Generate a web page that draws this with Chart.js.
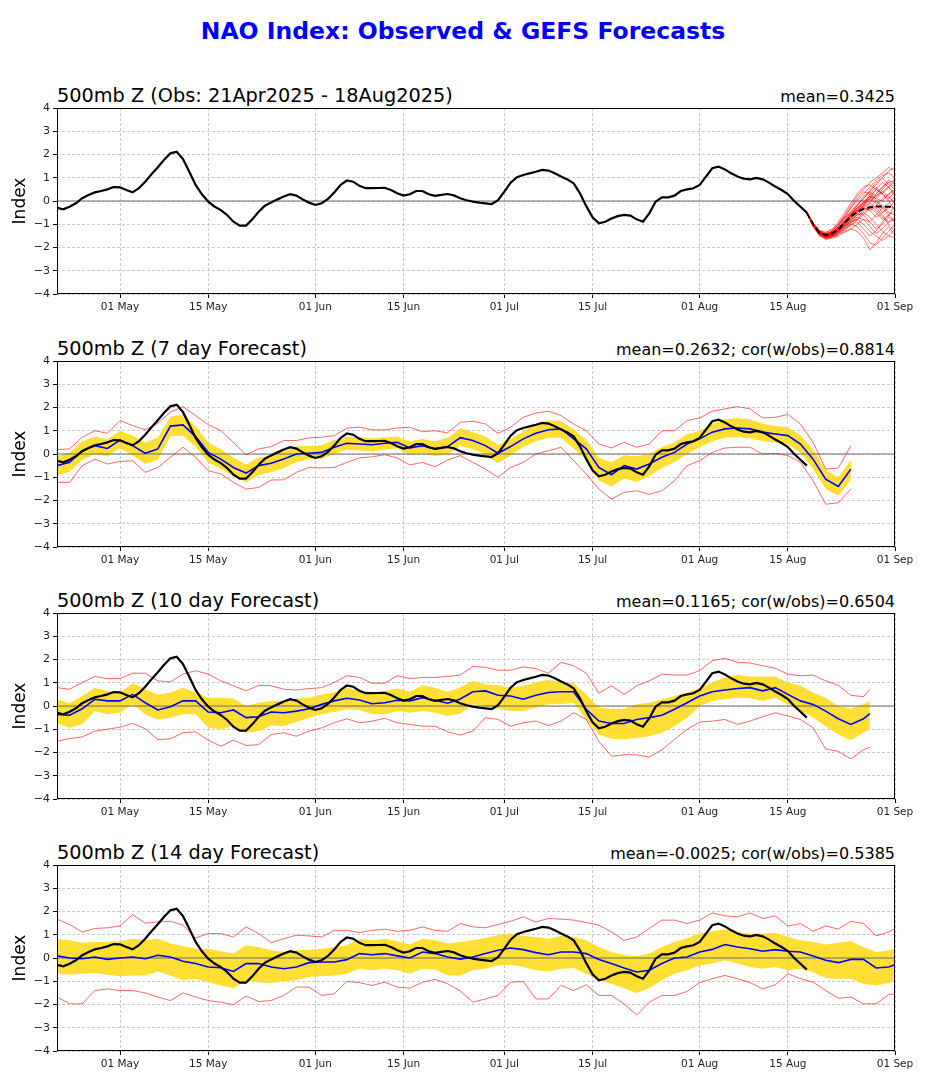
<!DOCTYPE html>
<html>
<head>
<meta charset="utf-8">
<title>NAO Index: Observed &amp; GEFS Forecasts</title>
<script src="https://cdn.jsdelivr.net/npm/chart.js@4.4.1/dist/chart.umd.min.js"></script>
<style>
  html, body { margin: 0; padding: 0; background: #fff; }
  #page { position: relative; width: 926px; height: 1080px; overflow: hidden;
          font-family: 'DejaVu Sans', sans-serif; color: #000; }
  .main-title { position: absolute; left: 0; top: 20px; width: 926px; text-align: center;
                font-size: 23.5px; line-height: 23.5px; font-weight: bold; color: #0000ff; }
  .panel-title { position: absolute; left: 57px; font-size: 19.3px; line-height: 19.3px; white-space: nowrap; }
  .panel-stat  { position: absolute; right: 31px; font-size: 16px; line-height: 16px; white-space: nowrap; }
  canvas { position: absolute; left: 0; }
</style>
</head>
<body>
<div id="page">
  <div class="main-title">NAO Index: Observed &amp; GEFS Forecasts</div>

  <div class="panel-title" style="top:86px">500mb Z (Obs: 21Apr2025 - 18Aug2025)</div>
  <div class="panel-stat"  style="top:88.5px">mean=0.3425</div>
  <canvas id="p1" width="926" height="226" style="top:98px"></canvas>

  <div class="panel-title" style="top:339px">500mb Z (7 day Forecast)</div>
  <div class="panel-stat"  style="top:341.5px">mean=0.2632; cor(w/obs)=0.8814</div>
  <canvas id="p2" width="926" height="226" style="top:351px"></canvas>

  <div class="panel-title" style="top:591px">500mb Z (10 day Forecast)</div>
  <div class="panel-stat"  style="top:593.5px">mean=0.1165; cor(w/obs)=0.6504</div>
  <canvas id="p3" width="926" height="226" style="top:603px"></canvas>

  <div class="panel-title" style="top:843px">500mb Z (14 day Forecast)</div>
  <div class="panel-stat"  style="top:845.5px">mean=-0.0025; cor(w/obs)=0.5385</div>
  <canvas id="p4" width="926" height="226" style="top:855px"></canvas>
</div>

<script>
// ── AXIS: days since 21 Apr 2025 ─────────────────────────────────────
const tickDays   = [10, 24, 41, 55, 71, 85, 102, 116, 133];
const tickLabels = ['01 May', '15 May', '01 Jun', '15 Jun', '01 Jul', '15 Jul', '01 Aug', '15 Aug', '01 Sep'];
const dayMax = 133;

// ── OBSERVED NAO (daily, 21 Apr - 18 Aug) ────────────────────────────
const obsIndex = [
  -0.29, -0.36, -0.25, -0.10, 0.12, 0.26, 0.37, 0.43, 0.50, 0.60,
  0.59, 0.47, 0.37, 0.55, 0.83, 1.15, 1.45, 1.77, 2.05, 2.12,
  1.80, 1.26, 0.69, 0.29, -0.03, -0.24, -0.39, -0.60, -0.89, -1.06,
  -1.06, -0.79, -0.46, -0.20, -0.06, 0.07, 0.19, 0.29, 0.23, 0.07,
  -0.07, -0.17, -0.10, 0.09, 0.37, 0.69, 0.88, 0.83, 0.65, 0.55,
  0.55, 0.56, 0.57, 0.47, 0.33, 0.23, 0.29, 0.43, 0.43, 0.29,
  0.22, 0.26, 0.30, 0.24, 0.12, 0.03, -0.03, -0.07, -0.10, -0.13,
  0.04, 0.40, 0.79, 1.02, 1.12, 1.19, 1.26, 1.34, 1.31, 1.19,
  1.05, 0.93, 0.76, 0.33, -0.22, -0.70, -0.96, -0.89, -0.75, -0.65,
  -0.60, -0.63, -0.79, -0.89, -0.53, -0.03, 0.16, 0.16, 0.23, 0.43,
  0.50, 0.55, 0.69, 1.05, 1.41, 1.48, 1.36, 1.19, 1.05, 0.96,
  0.93, 0.99, 0.93, 0.79, 0.62, 0.47, 0.30, 0.00, -0.25, -0.50
];

// ── GEFS ENSEMBLE FROM 18 AUG (daily, days 119-133) ──────────────────
const ensStart = 119;
const ensMean = [-0.50, -1.00, -1.37, -1.46, -1.40, -1.22, -0.94, -0.66, -0.48, -0.34, -0.27, -0.24, -0.24, -0.25, -0.26];
const ensMembers = [
  [-0.5, -1.00, -1.35, -1.45, -1.30, -1.00, -0.60, -0.20, 0.20, 0.50, 0.80, 1.00, 1.20, 1.45, 1.30],
  [-0.5, -1.05, -1.40, -1.50, -1.40, -1.10, -0.70, -0.30, 0.00, 0.30, 0.60, 0.90, 1.10, 1.20, 1.00],
  [-0.5, -0.95, -1.30, -1.40, -1.35, -1.15, -0.90, -0.60, -0.40, -0.20, 0.10, 0.30, 0.60, 0.90, 0.70],
  [-0.5, -1.00, -1.40, -1.55, -1.50, -1.30, -1.00, -0.70, -0.50, -0.30, -0.40, -0.20, 0.10, 0.30, 0.50],
  [-0.5, -1.10, -1.45, -1.60, -1.55, -1.40, -1.20, -1.00, -1.10, -1.40, -1.80, -1.90, -1.60, -1.30, -1.00],
  [-0.5, -1.00, -1.35, -1.50, -1.45, -1.30, -1.10, -0.90, -0.80, -0.60, -0.30, 0.00, -0.20, -0.50, -0.60],
  [-0.5, -0.95, -1.30, -1.45, -1.30, -1.00, -0.70, -0.50, -0.30, -0.10, 0.10, 0.50, 0.80, 0.60, 0.20],
  [-0.5, -1.05, -1.45, -1.60, -1.55, -1.45, -1.30, -1.20, -1.30, -1.60, -2.10, -1.80, -1.40, -1.10, -1.50],
  [-0.5, -1.00, -1.40, -1.50, -1.40, -1.20, -0.95, -0.70, -0.45, -0.20, 0.00, 0.20, 0.40, 0.20, -0.10],
  [-0.5, -1.00, -1.30, -1.35, -1.20, -0.90, -0.50, -0.10, 0.30, 0.60, 0.70, 0.50, 0.30, 0.60, 0.90],
  [-0.5, -1.05, -1.40, -1.55, -1.45, -1.25, -1.00, -0.80, -0.60, -0.50, -0.70, -1.00, -1.30, -1.50, -1.60],
  [-0.5, -1.00, -1.35, -1.50, -1.40, -1.20, -0.85, -0.50, -0.20, 0.10, 0.40, 0.70, 1.00, 1.30, 1.45],
  [-0.5, -1.00, -1.40, -1.55, -1.50, -1.35, -1.15, -0.95, -0.70, -0.40, -0.20, -0.40, -0.70, -0.90, -0.80],
  [-0.5, -0.95, -1.30, -1.45, -1.40, -1.20, -0.90, -0.60, -0.30, 0.00, 0.20, 0.00, -0.30, -0.10, 0.20],
  [-0.5, -1.10, -1.50, -1.65, -1.60, -1.50, -1.35, -1.20, -1.00, -0.80, -0.90, -1.20, -1.00, -0.70, -0.90],
  [-0.5, -1.00, -1.35, -1.45, -1.35, -1.10, -0.80, -0.55, -0.40, -0.30, -0.10, 0.30, 0.60, 0.80, 0.90],
  [-0.5, -1.00, -1.40, -1.50, -1.45, -1.30, -1.10, -0.85, -0.60, -0.30, -0.40, -0.70, -0.50, -0.20, -0.30],
  [-0.5, -1.05, -1.40, -1.55, -1.50, -1.35, -1.10, -0.90, -0.80, -1.00, -1.30, -1.50, -1.70, -1.50, -1.20],
  [-0.5, -0.95, -1.25, -1.35, -1.25, -1.00, -0.65, -0.30, 0.10, 0.40, 0.30, 0.10, 0.00, 0.30, 0.50],
  [-0.5, -1.00, -1.40, -1.50, -1.40, -1.20, -1.00, -0.75, -0.50, -0.20, 0.30, 0.60, 0.30, 0.00, -0.40],
  [-0.5, -1.00, -1.35, -1.50, -1.45, -1.25, -0.95, -0.60, -0.20, 0.20, 0.40, 0.20, 0.50, 0.80, 0.60],
  [-0.5, -1.05, -1.45, -1.60, -1.55, -1.40, -1.20, -1.00, -0.90, -1.20, -1.50, -1.30, -0.90, -0.60, -0.40],
  [-0.5, -1.00, -1.35, -1.45, -1.35, -1.15, -0.85, -0.60, -0.30, -0.10, 0.10, -0.10, -0.50, -0.30, 0.00],
  [-0.5, -1.00, -1.40, -1.55, -1.45, -1.30, -1.05, -0.80, -0.55, -0.60, -0.90, -0.60, -0.30, -0.60, -0.90],
  [-0.5, -1.00, -1.35, -1.50, -1.40, -1.20, -0.90, -0.60, -0.35, -0.10, 0.20, 0.50, 0.30, 0.10, 0.40],
  [-0.5, -1.05, -1.45, -1.60, -1.50, -1.30, -1.05, -0.85, -0.70, -0.80, -1.10, -1.40, -1.20, -0.90, -0.70],
  [-0.5, -0.95, -1.30, -1.40, -1.30, -1.05, -0.75, -0.45, -0.15, 0.10, 0.45, 0.80, 1.00, 0.70, 0.50],
  [-0.5, -1.00, -1.40, -1.50, -1.45, -1.25, -1.00, -0.70, -0.45, -0.25, -0.10, -0.30, -0.60, -1.00, -1.30],
  [-0.5, -1.00, -1.35, -1.45, -1.35, -1.15, -0.90, -0.65, -0.40, -0.10, 0.20, 0.10, 0.40, 0.60, 0.30],
  [-0.5, -1.05, -1.40, -1.55, -1.50, -1.40, -1.25, -1.05, -0.80, -0.50, -0.30, -0.50, -0.80, -0.60, -0.20]
];

// ── 7 DAY FORECAST (every 2 days, to day 126) ────────────────────────
const fc7Last = 126;
const fc7Mean = [
  -0.50, -0.36, 0.14, 0.36, 0.24, 0.60, 0.36, 0.03, 0.22, 1.20,
  1.25, 0.75, 0.07, -0.22, -0.58, -0.82, -0.50, -0.40, -0.22, 0.00,
  0.03, 0.07, 0.29, 0.46, 0.43, 0.40, 0.46, 0.50, 0.26, 0.36,
  0.22, 0.32, 0.70, 0.58, 0.36, 0.03, 0.32, 0.65, 0.89, 1.04,
  1.08, 0.65, 0.22, -0.58, -0.89, -0.50, -0.65, -0.43, -0.14, 0.07,
  0.43, 0.65, 0.94, 1.08, 1.12, 1.08, 0.94, 0.86, 0.79, 0.43,
  -0.22, -1.08, -1.40, -0.65
];
const fc7Upper = [
  -0.10, 0.05, 0.55, 0.75, 0.62, 1.00, 0.80, 0.50, 0.70, 1.60,
  1.70, 1.20, 0.50, 0.20, -0.15, -0.45, -0.15, -0.05, 0.12, 0.32,
  0.36, 0.38, 0.60, 0.75, 0.72, 0.68, 0.72, 0.75, 0.55, 0.65,
  0.55, 0.70, 1.10, 0.95, 0.75, 0.40, 0.65, 0.98, 1.25, 1.45,
  1.42, 1.05, 0.60, -0.15, -0.35, -0.05, -0.10, 0.00, 0.30, 0.50,
  0.85, 1.00, 1.30, 1.50, 1.55, 1.50, 1.30, 1.20, 1.15, 0.80,
  0.20, -0.70, -1.00, -0.25
];
const fc7Lower = [
  -0.92, -0.75, -0.25, 0.00, -0.10, 0.25, -0.05, -0.43, -0.25, 0.75,
  0.80, 0.30, -0.35, -0.65, -0.95, -1.22, -0.90, -0.78, -0.60, -0.35,
  -0.22, -0.20, 0.00, 0.18, 0.15, 0.12, 0.18, 0.25, -0.05, 0.05,
  -0.10, -0.02, 0.35, 0.20, -0.02, -0.40, -0.05, 0.30, 0.55, 0.70,
  0.70, 0.25, -0.25, -1.15, -1.40, -1.05, -1.20, -0.95, -0.60, -0.35,
  0.00, 0.30, 0.55, 0.70, 0.72, 0.68, 0.55, 0.50, 0.42, 0.05,
  -0.65, -1.50, -1.80, -1.10
];
const fc7Max = [
  0.19, 0.22, 0.72, 1.00, 0.89, 1.44, 1.22, 1.04, 1.32, 1.80,
  2.04, 1.65, 1.26, 1.00, 0.50, -0.03, 0.22, 0.32, 0.58, 0.58,
  0.69, 0.72, 0.79, 1.11, 1.15, 1.04, 1.04, 1.12, 1.15, 0.96,
  1.00, 0.91, 1.36, 1.41, 1.29, 0.89, 1.15, 1.58, 1.76, 1.84,
  1.65, 1.29, 1.00, 0.43, 0.26, 0.50, 0.29, 0.43, 1.00, 1.00,
  1.44, 1.55, 1.84, 1.94, 2.04, 1.94, 1.55, 1.58, 1.70, 1.29,
  0.50, -0.65, -0.60, 0.36
];
const fc7Min = [
  -1.22, -1.22, -0.50, -0.22, -0.43, -0.32, -0.29, -0.79, -0.58, -0.14,
  0.29, -0.14, -0.72, -0.86, -1.22, -1.51, -1.44, -1.12, -1.11, -0.79,
  -0.58, -0.60, -0.58, -0.36, -0.17, -0.12, -0.03, -0.17, -0.47, -0.36,
  -0.55, -0.26, -0.07, -0.36, -0.65, -1.00, -0.58, -0.36, 0.00, 0.14,
  0.29, -0.29, -0.86, -1.51, -1.94, -1.65, -1.58, -1.73, -1.58, -1.15,
  -0.50, -0.29, 0.07, 0.26, 0.29, 0.29, 0.00, 0.03, -0.07, -0.36,
  -1.15, -2.16, -2.10, -1.51
];

// ── 10 DAY FORECAST (every 2 days, to day 129) ───────────────────────
const fc10Last = 129;
const fc10Mean = [
  -0.36, -0.40, -0.12, 0.29, 0.22, 0.22, 0.50, 0.14, -0.17, -0.03,
  0.22, 0.22, -0.26, -0.29, -0.17, -0.50, -0.46, -0.26, -0.29, -0.22,
  -0.12, 0.07, 0.22, 0.33, 0.26, 0.10, 0.14, 0.25, 0.22, 0.36,
  0.25, 0.12, 0.30, 0.61, 0.65, 0.46, 0.43, 0.29, 0.46, 0.58,
  0.61, 0.61, -0.14, -0.65, -0.75, -0.75, -0.58, -0.50, -0.40, -0.14,
  0.14, 0.43, 0.61, 0.69, 0.75, 0.79, 0.65, 0.79, 0.50, 0.22,
  0.07, -0.22, -0.55, -0.79, -0.55, -0.33
];
const fc10Upper = [
  0.29, 0.12, 0.43, 0.79, 0.65, 0.58, 0.98, 0.72, 0.50, 0.58,
  0.79, 0.58, 0.36, 0.36, 0.32, 0.00, 0.14, 0.22, 0.22, 0.32,
  0.36, 0.50, 0.58, 0.79, 0.65, 0.58, 0.65, 0.75, 0.61, 0.89,
  0.79, 0.61, 0.80, 1.08, 0.94, 0.89, 0.79, 0.87, 1.01, 1.13,
  1.01, 0.98, 0.50, -0.07, -0.12, -0.12, 0.07, 0.14, 0.29, 0.43,
  0.58, 0.79, 1.01, 1.23, 1.33, 1.27, 1.27, 1.27, 1.01, 0.87,
  0.58, 0.36, 0.00, -0.12, 0.07, 0.22
];
const fc10Lower = [
  -0.75, -0.94, -0.79, -0.22, -0.36, -0.29, 0.07, -0.36, -0.58, -0.50,
  -0.36, -0.36, -0.94, -1.00, -0.87, -1.15, -1.08, -0.84, -0.87, -0.69,
  -0.50, -0.36, -0.26, -0.14, -0.17, -0.36, -0.36, -0.22, -0.29, -0.22,
  -0.29, -0.43, -0.33, 0.07, 0.00, -0.12, -0.22, -0.22, -0.07, 0.07,
  0.07, 0.14, -0.58, -1.23, -1.41, -1.44, -1.37, -1.30, -1.15, -0.87,
  -0.50, 0.00, 0.22, 0.29, 0.36, 0.33, 0.22, 0.36, 0.07, -0.22,
  -0.50, -0.87, -1.23, -1.47, -1.15, -1.00
];
const fc10Max = [
  0.79, 0.72, 1.01, 1.27, 1.18, 1.18, 1.41, 1.41, 1.08, 1.04,
  1.37, 1.52, 1.37, 1.08, 0.87, 0.65, 0.89, 0.87, 0.72, 0.69,
  0.75, 0.79, 1.01, 1.30, 1.23, 0.98, 0.98, 1.30, 1.18, 1.23,
  1.23, 1.27, 1.33, 1.70, 1.66, 1.54, 1.54, 1.68, 1.61, 1.41,
  1.88, 1.73, 1.41, 0.55, 0.87, 0.50, 0.87, 1.08, 1.37, 1.33,
  1.33, 1.52, 1.95, 2.05, 1.88, 1.85, 1.73, 1.62, 1.37, 1.30,
  1.33, 1.08, 0.89, 0.46, 0.40, 0.72
];
const fc10Min = [
  -1.52, -1.40, -1.33, -1.08, -1.00, -0.91, -0.75, -0.98, -1.44, -1.41,
  -1.15, -1.11, -1.47, -1.73, -1.47, -1.70, -1.66, -1.23, -1.15, -1.30,
  -1.08, -0.94, -0.72, -0.55, -0.72, -0.65, -0.53, -0.72, -0.79, -0.87,
  -0.87, -1.11, -1.25, -1.08, -0.50, -0.58, -0.87, -0.72, -0.65, -0.84,
  -0.65, -0.29, -0.58, -1.52, -2.16, -2.10, -2.10, -2.20, -1.88, -1.44,
  -1.00, -0.69, -0.65, -0.58, -0.79, -0.65, -0.46, -0.29, -0.43, -0.58,
  -0.94, -1.85, -1.95, -2.28, -1.88, -1.78
];

// ── 14 DAY FORECAST (every 2 days, to day 133) ───────────────────────
const fc14Last = 133;
const fc14Mean = [
  0.09, 0.00, -0.03, 0.04, -0.06, 0.00, 0.04, -0.03, 0.12, 0.04,
  -0.14, -0.24, -0.39, -0.42, -0.58, -0.24, -0.24, -0.39, -0.46, -0.39,
  -0.20, -0.17, -0.17, -0.07, 0.19, 0.14, 0.19, 0.09, 0.00, 0.26,
  0.19, 0.04, -0.05, 0.04, 0.19, 0.33, 0.43, 0.36, 0.23, 0.14,
  0.26, 0.26, 0.19, -0.06, -0.24, -0.43, -0.60, -0.53, -0.24, 0.00,
  0.04, 0.26, 0.37, 0.58, 0.47, 0.40, 0.29, 0.36, 0.29, 0.26,
  0.09, -0.10, -0.20, -0.06, -0.06, -0.43, -0.39, -0.29
];
const fc14Upper = [
  0.83, 0.76, 0.66, 0.69, 0.69, 0.72, 0.83, 0.76, 0.83, 0.62,
  0.52, 0.40, 0.40, 0.29, 0.19, 0.55, 0.47, 0.33, 0.26, 0.33,
  0.36, 0.40, 0.47, 0.55, 0.83, 0.76, 0.83, 0.72, 0.58, 0.83,
  0.76, 0.62, 0.69, 0.76, 0.86, 0.98, 1.05, 0.95, 0.90, 0.83,
  0.95, 0.90, 0.76, 0.47, 0.26, 0.14, 0.09, 0.19, 0.47, 0.69,
  0.86, 1.05, 1.15, 1.24, 1.12, 1.05, 1.05, 1.09, 0.90, 0.76,
  0.69, 0.58, 0.66, 0.72, 0.47, 0.26, 0.33, 0.40
];
const fc14Lower = [
  -0.68, -0.72, -0.68, -0.64, -0.72, -0.78, -0.75, -0.75, -0.58, -0.75,
  -0.96, -0.89, -1.04, -1.18, -1.30, -0.96, -1.04, -1.07, -1.00, -0.96,
  -0.82, -0.78, -0.75, -0.68, -0.46, -0.53, -0.46, -0.53, -0.68, -0.46,
  -0.49, -0.75, -0.75, -0.53, -0.46, -0.32, -0.29, -0.39, -0.53, -0.58,
  -0.46, -0.43, -0.68, -0.96, -1.11, -1.30, -1.50, -1.30, -0.96, -0.68,
  -0.53, -0.32, -0.24, -0.10, -0.24, -0.39, -0.46, -0.39, -0.53, -0.46,
  -0.60, -0.86, -0.89, -0.89, -1.11, -1.18, -1.07, -0.96
];
const fc14Max = [
  1.67, 1.44, 1.12, 1.27, 1.30, 1.38, 1.87, 1.50, 1.55, 1.58,
  1.41, 0.86, 1.05, 1.05, 0.90, 1.34, 1.05, 0.66, 0.83, 0.98,
  0.95, 0.90, 1.19, 1.19, 1.09, 1.19, 1.24, 1.15, 1.19, 1.34,
  1.19, 1.15, 1.48, 1.34, 1.30, 1.44, 1.58, 1.77, 1.55, 1.70,
  1.67, 1.63, 1.53, 1.41, 1.12, 0.76, 0.90, 1.27, 1.63, 1.63,
  1.48, 1.63, 1.94, 1.81, 1.77, 1.94, 1.70, 1.81, 1.38, 1.48,
  1.15, 1.38, 1.24, 1.58, 1.48, 0.95, 1.12, 1.27
];
const fc14Min = [
  -1.68, -1.97, -1.97, -1.40, -1.33, -1.40, -1.40, -1.50, -1.68, -1.83,
  -1.50, -1.68, -1.83, -1.90, -2.01, -1.64, -1.87, -1.83, -1.61, -1.25,
  -1.25, -1.61, -1.54, -1.01, -1.06, -1.18, -1.04, -1.25, -1.30, -1.04,
  -0.92, -1.11, -1.42, -1.90, -1.76, -1.61, -1.04, -1.01, -1.76, -1.76,
  -1.18, -1.40, -1.15, -1.61, -1.61, -1.97, -2.45, -1.90, -1.61, -1.61,
  -1.44, -1.06, -0.89, -0.75, -0.89, -1.06, -1.33, -1.15, -0.68, -0.89,
  -1.04, -1.40, -1.73, -1.68, -1.97, -1.97, -1.58, -1.54
];

// ── STYLE ────────────────────────────────────────────────────────────
const FONT = "'DejaVu Sans', sans-serif";
const BAND_COLOR = 'rgba(255,215,0,0.8)';
const SPREAD_COLOR = 'rgba(255,0,0,0.6)';
const MEMBER_COLOR = 'rgba(255,0,0,0.6)';

// day lists: every 2nd day from 0, closing on the last forecast day
function evenDays(last) {
  const days = [];
  for (let d = 0; d <= last; d += 2) days.push(d);
  if (days[days.length - 1] !== last) days.push(last);
  return days;
}
function toPoints(days, values) {
  return values.map((v, i) => ({ x: days[i], y: v }));
}
function dailyPoints(start, values) {
  return values.map((v, i) => ({ x: start + i, y: v }));
}

const frameBox = {
  id: 'frameBox',
  afterDatasetsDraw(chart) {
    const { ctx, chartArea: a } = chart;
    ctx.save();
    ctx.strokeStyle = '#000';
    ctx.lineWidth = 1;
    ctx.strokeRect(Math.round(a.left) + 0.5, Math.round(a.top) + 0.5,
                   Math.round(a.right - a.left) - 1, Math.round(a.bottom - a.top) - 1);
    ctx.restore();
  }
};

function lineSet(data, color, width, extra) {
  return Object.assign({
    data, borderColor: color, borderWidth: width, backgroundColor: color,
    pointRadius: 0, fill: false, tension: 0
  }, extra || {});
}

function zeroLine() {
  return lineSet([{ x: 0, y: 0 }, { x: dayMax, y: 0 }], '#6e6e6e', 1);
}

function panelOptions() {
  const gridCommon = {
    color: '#bdbdbd', lineWidth: 0.8,
    tickLength: 4, tickColor: '#000', tickWidth: 1, tickBorderDash: []
  };
  return {
    responsive: false,
    animation: false,
    events: [],
    layout: { padding: { left: 0, right: 31, top: 10, bottom: 0 } },
    plugins: { legend: { display: false }, tooltip: { enabled: false } },
    scales: {
      x: {
        type: 'linear', min: 0, max: dayMax,
        afterBuildTicks(scale) { scale.ticks = tickDays.map(v => ({ value: v })); },
        afterFit(scale) { scale.height = 30; },
        ticks: {
          autoSkip: false, maxRotation: 0, padding: 3, color: '#222',
          font: { size: 10.5, family: FONT },
          callback: (v, i) => tickLabels[i]
        },
        grid: gridCommon,
        border: { display: false, dash: [3, 2] }
      },
      y: {
        min: -4, max: 4,
        afterFit(scale) { scale.width = 57; },
        ticks: {
          stepSize: 1, padding: 3, color: '#222',
          font: { size: 11, family: FONT },
          callback: v => (v < 0 ? '\u2212' + Math.abs(v) : String(v))
        },
        title: {
          display: true, text: 'Index', color: '#000',
          font: { size: 17, family: FONT }, padding: { top: 10, bottom: 0 }
        },
        grid: gridCommon,
        border: { display: false, dash: [3, 2] }
      }
    }
  };
}

// ── PANEL 1: observations + ensemble plume ──────────────────────────
(function () {
  const datasets = [
    lineSet(dailyPoints(0, obsIndex), '#000', 2.2),
    lineSet(dailyPoints(ensStart, ensMean), '#000', 2, { borderDash: [6, 3] })
  ];
  ensMembers.forEach(m => datasets.push(lineSet(dailyPoints(ensStart, m), MEMBER_COLOR, 0.9)));
  datasets.push(zeroLine());
  new Chart(document.getElementById('p1'), {
    type: 'line', data: { datasets }, options: panelOptions(), plugins: [frameBox]
  });
})();

// ── PANELS 2-4: forecast mean, spread band, max/min ─────────────────
function forecastPanel(id, last, mean, upper, lower, maxv, minv) {
  const days = evenDays(last);
  const datasets = [
    lineSet(dailyPoints(0, obsIndex), '#000', 2.2),
    lineSet(toPoints(days, mean), '#0000ff', 1.6),
    lineSet(toPoints(days, maxv), SPREAD_COLOR, 1),
    lineSet(toPoints(days, minv), SPREAD_COLOR, 1),
    zeroLine(),
    lineSet(toPoints(days, upper), BAND_COLOR, 0, { fill: '+1', backgroundColor: BAND_COLOR }),
    lineSet(toPoints(days, lower), BAND_COLOR, 0)
  ];
  new Chart(document.getElementById(id), {
    type: 'line', data: { datasets }, options: panelOptions(), plugins: [frameBox]
  });
}

forecastPanel('p2', fc7Last, fc7Mean, fc7Upper, fc7Lower, fc7Max, fc7Min);
forecastPanel('p3', fc10Last, fc10Mean, fc10Upper, fc10Lower, fc10Max, fc10Min);
forecastPanel('p4', fc14Last, fc14Mean, fc14Upper, fc14Lower, fc14Max, fc14Min);
</script>
</body>
</html>
